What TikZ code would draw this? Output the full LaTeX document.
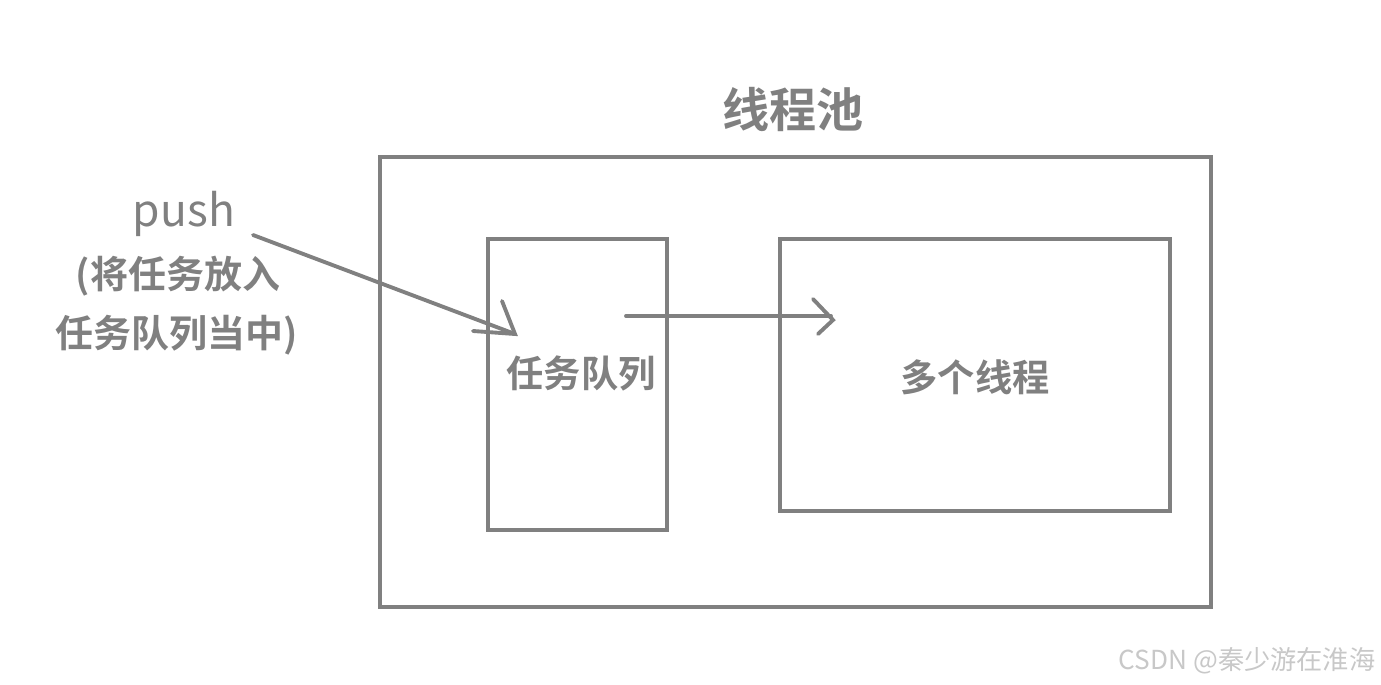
\documentclass[tikz,border=0pt]{standalone}
\usepackage{fontspec}
\setmainfont{Noto Sans CJK SC}
\newfontfamily\cjkb{Noto Sans CJK SC Bold}
\newfontfamily\cjkr{Noto Sans CJK SC}
\definecolor{lg}{RGB}{128,128,128}
\definecolor{wm}{RGB}{200,200,200}
\tikzset{
  box/.style={draw=lg, line width=1.1pt, inner sep=0pt},
  conn/.style={draw=lg, line width=1.1pt, line cap=round},
  lbl/.style={text=lg, inner sep=0pt},
}
\begin{document}
\begin{tikzpicture}[x=0.01cm,y=-0.01cm]
\useasboundingbox (0,0) rectangle (1381,685);
% boxes
\node[box, minimum width=8.31cm, minimum height=4.50cm] (pool) at (795.5,382) {};
\node[box, minimum width=1.79cm, minimum height=2.91cm] (qbox) at (577.5,384.5) {};
\node[box, minimum width=3.90cm, minimum height=2.72cm] (tbox) at (975,375) {};
% texts
\node[lbl, font=\cjkb\fontsize{13.4pt}{14pt}\selectfont] (title) at (793,110) {线程池};
\node[lbl, font=\cjkb\fontsize{10.6pt}{12pt}\selectfont] (queue) at (581,373) {任务队列};
\node[lbl, font=\cjkb\fontsize{10.6pt}{12pt}\selectfont] (threads) at (975,377) {多个线程};
\node[lbl, font=\cjkr\fontsize{12.6pt}{14pt}\selectfont] (push) at (184,214) {push};
\node[lbl, font=\cjkb\fontsize{10.8pt}{12pt}\selectfont] (l1) at (178,276) {(将任务放入};
\node[lbl, font=\cjkb\fontsize{10.8pt}{12pt}\selectfont] (l2) at (177,335) {任务队列当中)};
\node[text=wm, font=\cjkr\fontsize{7.45pt}{8pt}\selectfont, inner sep=0pt] (wmk) at (1247,661) {CSDN @秦少游在淮海};
% arrow 1
\coordinate (a1s) at (253,235);
\coordinate (a1t) at (515,334);
\coordinate (a1b1) at (502,301);
\coordinate (a1b2) at (473,331);
\draw[conn] (a1s) -- (a1t);
\draw[conn] (a1b1) -- (a1t) -- (a1b2);
% arrow 2
\coordinate (a2s) at (626,316);
\coordinate (a2e) at (831,316);
\coordinate (a2t) at (833,320);
\coordinate (a2b1) at (813,299);
\coordinate (a2b2) at (818,334);
\draw[conn] (a2s) -- (a2e);
\draw[conn] (a2b1) -- (a2t) -- (a2b2);
\end{tikzpicture}
\end{document}
